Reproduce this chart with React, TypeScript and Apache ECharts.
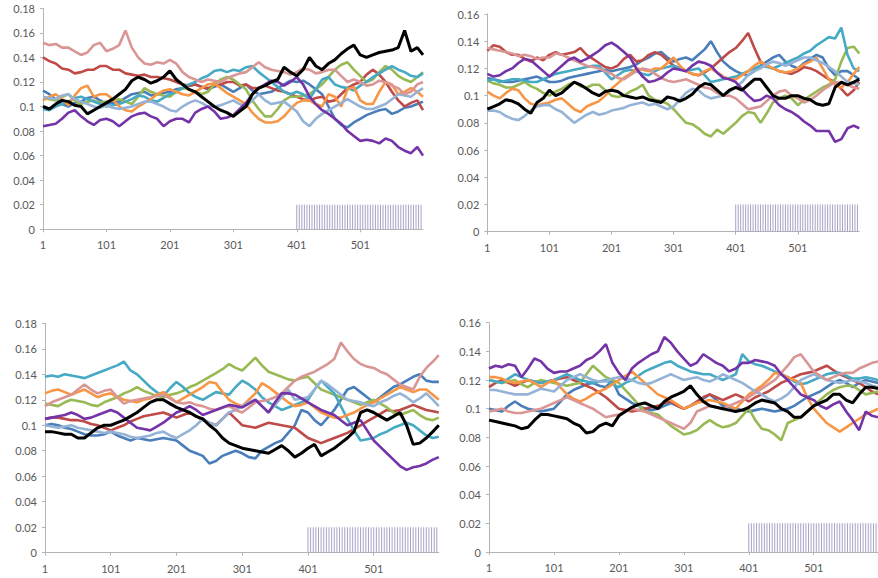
import React, { useEffect, useRef } from "react";
import * as echarts from "echarts";

// x positions of the sampled points (steps of the simulation)
const XS = [1, 11, 21, 31, 41, 51, 61, 71, 81, 91, 101, 111, 121, 131, 141, 151, 161, 171, 181, 191, 201, 211, 221, 231, 241, 251, 261, 271, 281, 291, 301, 311, 321, 331, 341, 351, 361, 371, 381, 391, 401, 411, 421, 431, 441, 451, 461, 471, 481, 491, 501, 511, 521, 531, 541, 551, 561, 571, 581, 591, 600];
// positions of the indicator bars (height 0.02)
const BAR_X = [401, 405, 409, 413, 417, 421, 425, 429, 433, 437, 441, 445, 449, 453, 457, 461, 465, 469, 473, 477, 481, 485, 489, 493, 497, 501, 505, 509, 513, 517, 521, 525, 529, 533, 537, 541, 545, 549, 553, 557, 561, 565, 569, 573, 577, 581, 585, 589, 593, 597];
const BAR_H = 0.02;

// Panel 1 (top-left)
const P1_BLUE = [0.113,0.110,0.106,0.102,0.100,0.103,0.104,0.107,0.108,0.105,0.102,0.103,0.104,0.107,0.110,0.111,0.112,0.109,0.110,0.111,0.112,0.114,0.115,0.117,0.118,0.116,0.114,0.116,0.118,0.115,0.112,0.115,0.118,0.113,0.110,0.111,0.112,0.115,0.118,0.121,0.120,0.121,0.118,0.114,0.110,0.100,0.090,0.085,0.083,0.087,0.090,0.093,0.095,0.097,0.098,0.094,0.096,0.099,0.100,0.102,0.104];
const P1_RED = [0.140,0.137,0.135,0.131,0.130,0.127,0.128,0.130,0.130,0.133,0.133,0.130,0.130,0.127,0.126,0.125,0.126,0.124,0.124,0.123,0.122,0.120,0.118,0.117,0.118,0.116,0.115,0.117,0.118,0.120,0.120,0.117,0.118,0.115,0.115,0.117,0.115,0.113,0.112,0.110,0.108,0.106,0.105,0.107,0.108,0.104,0.105,0.110,0.115,0.118,0.120,0.126,0.130,0.126,0.120,0.112,0.105,0.100,0.103,0.105,0.097];
const P1_GREEN = [0.107,0.106,0.105,0.108,0.110,0.105,0.102,0.104,0.105,0.103,0.104,0.105,0.106,0.104,0.102,0.108,0.115,0.112,0.110,0.109,0.108,0.112,0.115,0.114,0.112,0.110,0.112,0.118,0.122,0.124,0.122,0.118,0.114,0.105,0.098,0.092,0.092,0.098,0.105,0.108,0.108,0.109,0.110,0.114,0.118,0.124,0.130,0.134,0.136,0.130,0.125,0.120,0.122,0.128,0.133,0.130,0.125,0.122,0.120,0.124,0.128];
const P1_TEAL = [0.098,0.097,0.100,0.102,0.104,0.107,0.108,0.106,0.104,0.102,0.100,0.101,0.102,0.104,0.106,0.109,0.108,0.105,0.104,0.107,0.110,0.112,0.115,0.118,0.120,0.123,0.125,0.129,0.130,0.128,0.130,0.129,0.132,0.133,0.128,0.124,0.120,0.116,0.112,0.110,0.112,0.110,0.106,0.114,0.122,0.124,0.118,0.116,0.115,0.113,0.117,0.120,0.124,0.127,0.130,0.133,0.130,0.128,0.125,0.124,0.127];
const P1_ORANGE = [0.105,0.108,0.110,0.106,0.101,0.109,0.115,0.117,0.108,0.110,0.110,0.106,0.100,0.097,0.096,0.100,0.103,0.106,0.110,0.113,0.114,0.112,0.110,0.109,0.112,0.115,0.118,0.119,0.115,0.111,0.108,0.105,0.102,0.095,0.090,0.087,0.087,0.088,0.092,0.098,0.103,0.105,0.105,0.102,0.100,0.110,0.108,0.100,0.114,0.116,0.105,0.102,0.102,0.112,0.120,0.118,0.110,0.112,0.115,0.112,0.108];
const P1_LIGHTBLUE = [0.108,0.107,0.106,0.109,0.110,0.106,0.104,0.102,0.100,0.099,0.101,0.099,0.098,0.099,0.100,0.102,0.104,0.104,0.102,0.100,0.097,0.096,0.100,0.103,0.105,0.103,0.100,0.100,0.101,0.103,0.105,0.102,0.100,0.105,0.110,0.105,0.102,0.103,0.104,0.100,0.096,0.088,0.084,0.090,0.094,0.097,0.100,0.103,0.106,0.103,0.100,0.098,0.098,0.100,0.102,0.106,0.110,0.109,0.108,0.112,0.115];
const P1_PINK = [0.152,0.150,0.151,0.148,0.148,0.145,0.142,0.144,0.150,0.152,0.145,0.147,0.150,0.162,0.148,0.140,0.135,0.134,0.136,0.135,0.138,0.135,0.128,0.124,0.122,0.120,0.122,0.121,0.120,0.123,0.125,0.127,0.128,0.132,0.136,0.132,0.130,0.129,0.128,0.126,0.128,0.131,0.130,0.127,0.128,0.130,0.130,0.125,0.120,0.122,0.120,0.117,0.118,0.121,0.120,0.117,0.115,0.110,0.112,0.118,0.120];
const P1_PURPLE = [0.084,0.085,0.086,0.090,0.095,0.097,0.092,0.088,0.085,0.089,0.090,0.088,0.084,0.088,0.092,0.094,0.095,0.092,0.090,0.084,0.088,0.090,0.090,0.087,0.095,0.098,0.100,0.096,0.090,0.091,0.093,0.098,0.103,0.110,0.115,0.118,0.121,0.120,0.117,0.120,0.124,0.118,0.108,0.102,0.097,0.094,0.090,0.086,0.080,0.076,0.072,0.073,0.072,0.070,0.074,0.072,0.067,0.064,0.062,0.067,0.060];
const P1_BLACK = [0.100,0.098,0.102,0.105,0.104,0.101,0.100,0.094,0.097,0.100,0.103,0.106,0.110,0.114,0.121,0.124,0.122,0.119,0.121,0.124,0.129,0.122,0.118,0.114,0.112,0.108,0.104,0.100,0.097,0.095,0.092,0.096,0.100,0.110,0.115,0.117,0.120,0.122,0.132,0.128,0.125,0.130,0.140,0.133,0.130,0.135,0.138,0.143,0.147,0.150,0.142,0.140,0.142,0.144,0.145,0.146,0.148,0.162,0.145,0.148,0.142];

// Panel 2 (top-right)
const P2_BLUE = [0.113,0.112,0.111,0.110,0.110,0.111,0.112,0.113,0.114,0.112,0.110,0.110,0.111,0.113,0.114,0.115,0.116,0.117,0.118,0.119,0.118,0.119,0.120,0.121,0.123,0.126,0.128,0.131,0.132,0.128,0.125,0.127,0.128,0.126,0.130,0.134,0.140,0.132,0.125,0.121,0.118,0.116,0.115,0.118,0.122,0.125,0.128,0.130,0.125,0.122,0.120,0.124,0.127,0.130,0.128,0.120,0.115,0.118,0.118,0.115,0.112];
const P2_RED = [0.133,0.137,0.136,0.132,0.130,0.130,0.127,0.125,0.128,0.126,0.130,0.132,0.130,0.131,0.132,0.135,0.130,0.127,0.124,0.121,0.120,0.122,0.127,0.130,0.125,0.126,0.130,0.132,0.130,0.126,0.122,0.120,0.118,0.116,0.115,0.117,0.120,0.124,0.128,0.132,0.135,0.140,0.146,0.135,0.125,0.122,0.120,0.118,0.117,0.116,0.118,0.121,0.120,0.118,0.115,0.112,0.110,0.105,0.100,0.104,0.110];
const P2_GREEN = [0.111,0.109,0.108,0.106,0.106,0.108,0.110,0.107,0.105,0.102,0.100,0.103,0.105,0.108,0.110,0.107,0.106,0.108,0.108,0.104,0.100,0.099,0.100,0.103,0.105,0.108,0.100,0.097,0.096,0.094,0.090,0.085,0.080,0.079,0.076,0.072,0.070,0.075,0.072,0.076,0.080,0.085,0.088,0.087,0.080,0.087,0.095,0.098,0.100,0.098,0.093,0.097,0.100,0.103,0.106,0.108,0.112,0.125,0.135,0.136,0.131];
const P2_TEAL = [0.111,0.112,0.110,0.111,0.112,0.112,0.111,0.110,0.110,0.112,0.114,0.116,0.117,0.118,0.119,0.120,0.121,0.122,0.122,0.117,0.112,0.115,0.118,0.119,0.118,0.116,0.115,0.118,0.120,0.121,0.122,0.120,0.118,0.119,0.120,0.115,0.110,0.111,0.112,0.113,0.114,0.116,0.118,0.120,0.122,0.121,0.120,0.122,0.124,0.126,0.128,0.131,0.133,0.137,0.140,0.143,0.142,0.150,0.130,0.120,0.118];
const P2_ORANGE = [0.103,0.100,0.098,0.102,0.105,0.104,0.098,0.094,0.093,0.094,0.095,0.097,0.098,0.094,0.090,0.088,0.092,0.094,0.096,0.100,0.105,0.109,0.113,0.116,0.120,0.119,0.118,0.120,0.120,0.124,0.128,0.122,0.118,0.116,0.115,0.118,0.120,0.117,0.114,0.112,0.112,0.115,0.118,0.122,0.125,0.122,0.120,0.118,0.117,0.118,0.120,0.123,0.125,0.128,0.120,0.112,0.108,0.106,0.110,0.116,0.121];
const P2_LIGHTBLUE = [0.089,0.089,0.088,0.085,0.083,0.082,0.085,0.089,0.092,0.093,0.093,0.090,0.088,0.084,0.080,0.083,0.086,0.088,0.086,0.087,0.089,0.090,0.091,0.093,0.094,0.095,0.093,0.094,0.092,0.090,0.092,0.097,0.102,0.105,0.104,0.100,0.098,0.099,0.100,0.103,0.106,0.110,0.115,0.118,0.120,0.123,0.125,0.124,0.122,0.124,0.126,0.128,0.128,0.126,0.124,0.121,0.118,0.114,0.110,0.109,0.108];
const P2_PINK = [0.135,0.134,0.133,0.132,0.131,0.129,0.130,0.129,0.127,0.128,0.128,0.131,0.130,0.128,0.126,0.124,0.122,0.121,0.120,0.118,0.116,0.113,0.112,0.115,0.118,0.120,0.119,0.116,0.113,0.111,0.110,0.111,0.112,0.110,0.108,0.106,0.105,0.102,0.100,0.100,0.098,0.094,0.090,0.091,0.092,0.096,0.100,0.103,0.104,0.100,0.098,0.095,0.097,0.100,0.104,0.107,0.110,0.109,0.108,0.106,0.105];
const P2_PURPLE = [0.116,0.114,0.115,0.118,0.120,0.124,0.127,0.126,0.122,0.118,0.114,0.118,0.122,0.126,0.128,0.125,0.127,0.130,0.133,0.137,0.139,0.136,0.132,0.128,0.120,0.114,0.110,0.111,0.113,0.117,0.120,0.119,0.118,0.122,0.125,0.124,0.122,0.117,0.113,0.112,0.110,0.105,0.100,0.096,0.097,0.100,0.098,0.093,0.090,0.088,0.085,0.081,0.078,0.074,0.074,0.074,0.066,0.068,0.076,0.078,0.076];
const P2_BLACK = [0.090,0.092,0.094,0.097,0.096,0.094,0.090,0.087,0.095,0.098,0.104,0.100,0.102,0.106,0.110,0.108,0.105,0.102,0.100,0.103,0.104,0.103,0.100,0.099,0.098,0.099,0.097,0.096,0.095,0.099,0.098,0.096,0.098,0.101,0.106,0.109,0.108,0.104,0.100,0.104,0.106,0.104,0.108,0.112,0.112,0.106,0.100,0.098,0.098,0.100,0.100,0.098,0.097,0.094,0.093,0.094,0.106,0.110,0.108,0.110,0.112];

// Panel 3 (bottom-left)
const P3_BLUE = [0.100,0.101,0.100,0.098,0.097,0.095,0.093,0.092,0.092,0.093,0.095,0.092,0.090,0.088,0.090,0.089,0.088,0.089,0.090,0.089,0.088,0.084,0.080,0.078,0.076,0.070,0.072,0.076,0.078,0.080,0.078,0.075,0.074,0.080,0.083,0.086,0.088,0.094,0.100,0.112,0.110,0.104,0.100,0.106,0.112,0.120,0.128,0.130,0.126,0.122,0.118,0.122,0.126,0.130,0.132,0.135,0.138,0.140,0.135,0.134,0.134];
const P3_RED = [0.105,0.106,0.106,0.105,0.104,0.104,0.103,0.101,0.100,0.098,0.096,0.098,0.100,0.103,0.105,0.107,0.108,0.109,0.110,0.108,0.106,0.108,0.110,0.107,0.104,0.102,0.100,0.105,0.110,0.105,0.100,0.099,0.098,0.100,0.102,0.101,0.100,0.099,0.098,0.094,0.090,0.088,0.086,0.088,0.090,0.092,0.094,0.097,0.100,0.103,0.106,0.109,0.112,0.111,0.112,0.114,0.116,0.114,0.112,0.111,0.110];
const P3_GREEN = [0.117,0.116,0.115,0.118,0.120,0.119,0.118,0.116,0.115,0.118,0.120,0.122,0.125,0.127,0.130,0.127,0.125,0.123,0.122,0.124,0.125,0.127,0.130,0.132,0.135,0.138,0.141,0.144,0.148,0.145,0.143,0.148,0.153,0.147,0.142,0.140,0.138,0.136,0.135,0.137,0.138,0.133,0.128,0.126,0.124,0.122,0.120,0.118,0.116,0.118,0.120,0.117,0.114,0.110,0.108,0.110,0.112,0.108,0.105,0.104,0.106];
const P3_TEAL = [0.138,0.139,0.138,0.140,0.139,0.138,0.137,0.139,0.141,0.143,0.145,0.147,0.150,0.143,0.140,0.135,0.130,0.126,0.123,0.129,0.134,0.130,0.125,0.122,0.120,0.123,0.126,0.125,0.124,0.130,0.135,0.132,0.128,0.122,0.118,0.115,0.112,0.114,0.116,0.118,0.120,0.128,0.135,0.130,0.125,0.115,0.105,0.096,0.088,0.089,0.090,0.093,0.095,0.098,0.100,0.102,0.100,0.096,0.092,0.090,0.091];
const P3_ORANGE = [0.125,0.127,0.128,0.126,0.124,0.126,0.128,0.125,0.122,0.124,0.125,0.122,0.120,0.119,0.118,0.120,0.121,0.124,0.126,0.122,0.118,0.121,0.124,0.127,0.130,0.134,0.133,0.126,0.120,0.117,0.115,0.120,0.125,0.133,0.130,0.126,0.122,0.118,0.115,0.116,0.118,0.114,0.110,0.108,0.106,0.106,0.108,0.110,0.113,0.116,0.118,0.121,0.124,0.127,0.130,0.128,0.126,0.128,0.128,0.124,0.120];
const P3_LIGHTBLUE = [0.100,0.099,0.098,0.099,0.100,0.098,0.097,0.096,0.095,0.094,0.095,0.094,0.093,0.091,0.090,0.091,0.092,0.094,0.095,0.092,0.090,0.093,0.096,0.100,0.105,0.102,0.100,0.105,0.110,0.112,0.115,0.118,0.120,0.115,0.110,0.116,0.122,0.128,0.120,0.121,0.122,0.128,0.135,0.132,0.128,0.124,0.120,0.119,0.118,0.116,0.115,0.118,0.120,0.123,0.125,0.122,0.118,0.121,0.125,0.120,0.115];
const P3_PINK = [0.115,0.118,0.120,0.122,0.124,0.128,0.132,0.128,0.125,0.127,0.128,0.122,0.117,0.119,0.120,0.121,0.122,0.123,0.124,0.121,0.118,0.117,0.118,0.116,0.115,0.113,0.112,0.114,0.115,0.112,0.110,0.114,0.118,0.119,0.120,0.122,0.125,0.130,0.135,0.138,0.140,0.142,0.145,0.148,0.152,0.165,0.158,0.152,0.148,0.146,0.145,0.142,0.140,0.136,0.132,0.130,0.128,0.138,0.145,0.150,0.155];
const P3_PURPLE = [0.105,0.106,0.107,0.108,0.110,0.108,0.105,0.106,0.108,0.110,0.112,0.110,0.106,0.102,0.098,0.097,0.096,0.099,0.102,0.106,0.110,0.112,0.115,0.112,0.108,0.110,0.112,0.114,0.116,0.115,0.114,0.117,0.120,0.115,0.110,0.118,0.125,0.125,0.124,0.121,0.118,0.115,0.112,0.110,0.108,0.104,0.100,0.102,0.104,0.096,0.088,0.083,0.078,0.073,0.068,0.065,0.067,0.068,0.070,0.073,0.075];
const P3_BLACK = [0.095,0.095,0.094,0.093,0.093,0.090,0.090,0.094,0.098,0.100,0.100,0.102,0.104,0.107,0.110,0.114,0.118,0.120,0.120,0.117,0.114,0.112,0.110,0.107,0.105,0.100,0.096,0.090,0.086,0.084,0.082,0.081,0.080,0.079,0.078,0.081,0.084,0.080,0.075,0.078,0.082,0.085,0.076,0.079,0.082,0.086,0.090,0.095,0.110,0.112,0.110,0.107,0.104,0.107,0.110,0.100,0.085,0.086,0.090,0.095,0.100];

// Panel 4 (bottom-right)
const P4_BLUE = [0.100,0.099,0.098,0.102,0.105,0.102,0.100,0.099,0.098,0.099,0.100,0.105,0.110,0.113,0.115,0.117,0.118,0.116,0.115,0.120,0.110,0.107,0.104,0.102,0.100,0.099,0.100,0.102,0.104,0.102,0.100,0.102,0.104,0.107,0.110,0.106,0.102,0.101,0.100,0.099,0.098,0.099,0.100,0.099,0.098,0.099,0.100,0.102,0.105,0.108,0.110,0.112,0.115,0.118,0.120,0.118,0.115,0.118,0.120,0.119,0.118];
const P4_RED = [0.115,0.118,0.120,0.118,0.116,0.118,0.120,0.119,0.118,0.119,0.120,0.121,0.122,0.120,0.118,0.116,0.114,0.111,0.108,0.104,0.100,0.099,0.098,0.099,0.100,0.101,0.102,0.104,0.105,0.102,0.100,0.102,0.105,0.108,0.110,0.108,0.106,0.108,0.110,0.108,0.105,0.108,0.110,0.112,0.115,0.118,0.120,0.122,0.124,0.125,0.126,0.128,0.130,0.127,0.124,0.122,0.120,0.118,0.115,0.112,0.110];
const P4_GREEN = [0.120,0.119,0.118,0.119,0.120,0.117,0.115,0.118,0.120,0.119,0.118,0.117,0.116,0.117,0.118,0.124,0.130,0.126,0.122,0.120,0.118,0.113,0.108,0.103,0.098,0.097,0.096,0.092,0.088,0.085,0.082,0.083,0.085,0.089,0.092,0.089,0.087,0.088,0.090,0.095,0.100,0.092,0.086,0.085,0.082,0.078,0.090,0.092,0.094,0.098,0.102,0.106,0.110,0.113,0.115,0.116,0.116,0.113,0.110,0.111,0.112];
const P4_TEAL = [0.120,0.119,0.118,0.121,0.124,0.122,0.120,0.119,0.118,0.119,0.120,0.122,0.124,0.122,0.120,0.119,0.118,0.119,0.120,0.117,0.115,0.118,0.120,0.123,0.126,0.128,0.130,0.132,0.133,0.130,0.128,0.126,0.125,0.124,0.124,0.122,0.120,0.122,0.124,0.138,0.133,0.131,0.130,0.128,0.126,0.124,0.122,0.119,0.117,0.118,0.120,0.122,0.124,0.125,0.125,0.123,0.121,0.121,0.122,0.121,0.120];
const P4_ORANGE = [0.122,0.122,0.121,0.119,0.118,0.119,0.120,0.118,0.115,0.118,0.120,0.115,0.110,0.107,0.105,0.107,0.110,0.112,0.114,0.117,0.120,0.123,0.126,0.122,0.118,0.114,0.110,0.108,0.106,0.103,0.100,0.102,0.104,0.105,0.106,0.105,0.104,0.102,0.100,0.105,0.110,0.113,0.116,0.120,0.125,0.124,0.122,0.120,0.118,0.108,0.100,0.095,0.090,0.087,0.084,0.087,0.090,0.093,0.096,0.098,0.100];
const P4_LIGHTBLUE = [0.113,0.113,0.112,0.111,0.110,0.110,0.110,0.112,0.114,0.113,0.112,0.116,0.120,0.122,0.124,0.122,0.120,0.119,0.119,0.121,0.122,0.121,0.120,0.118,0.117,0.118,0.120,0.122,0.124,0.122,0.120,0.121,0.122,0.120,0.119,0.121,0.124,0.122,0.120,0.118,0.115,0.112,0.110,0.107,0.105,0.107,0.110,0.115,0.120,0.122,0.124,0.122,0.120,0.119,0.118,0.119,0.120,0.119,0.118,0.116,0.115];
const P4_PINK = [0.098,0.099,0.100,0.098,0.097,0.097,0.098,0.099,0.100,0.102,0.104,0.106,0.108,0.106,0.104,0.102,0.100,0.097,0.094,0.095,0.096,0.098,0.100,0.099,0.098,0.096,0.094,0.092,0.090,0.088,0.086,0.090,0.098,0.100,0.102,0.101,0.100,0.102,0.104,0.106,0.108,0.111,0.114,0.117,0.120,0.125,0.130,0.136,0.138,0.132,0.126,0.123,0.120,0.122,0.124,0.125,0.125,0.128,0.130,0.132,0.133];
const P4_PURPLE = [0.128,0.130,0.129,0.131,0.130,0.122,0.128,0.135,0.133,0.128,0.125,0.126,0.126,0.128,0.130,0.134,0.136,0.140,0.145,0.132,0.125,0.120,0.128,0.132,0.135,0.138,0.140,0.150,0.146,0.140,0.135,0.130,0.132,0.138,0.135,0.132,0.130,0.126,0.128,0.132,0.132,0.134,0.133,0.132,0.130,0.124,0.120,0.115,0.110,0.108,0.106,0.102,0.100,0.103,0.105,0.098,0.092,0.085,0.098,0.095,0.094];
const P4_BLACK = [0.092,0.091,0.090,0.089,0.088,0.086,0.087,0.092,0.096,0.096,0.095,0.094,0.093,0.090,0.088,0.083,0.084,0.088,0.090,0.088,0.095,0.098,0.101,0.103,0.104,0.102,0.100,0.105,0.108,0.110,0.112,0.116,0.110,0.105,0.102,0.101,0.100,0.099,0.098,0.099,0.101,0.104,0.106,0.105,0.104,0.100,0.098,0.094,0.094,0.098,0.102,0.104,0.106,0.110,0.110,0.106,0.104,0.110,0.115,0.115,0.114];

const Y_MAX = [0.18, 0.16, 0.18, 0.16];

const COLORS = {
  blue: "#4A7EBB",
  red: "#BE4B48",
  green: "#98B954",
  teal: "#46AAC5",
  orange: "#F79646",
  lightBlue: "#95B3D7",
  pink: "#D99694",
  purple: "#7433A6",
  black: "#000000",
};

const PANELS = [
  [P1_BLUE, P1_RED, P1_GREEN, P1_TEAL, P1_ORANGE, P1_LIGHTBLUE, P1_PINK, P1_PURPLE, P1_BLACK],
  [P2_BLUE, P2_RED, P2_GREEN, P2_TEAL, P2_ORANGE, P2_LIGHTBLUE, P2_PINK, P2_PURPLE, P2_BLACK],
  [P3_BLUE, P3_RED, P3_GREEN, P3_TEAL, P3_ORANGE, P3_LIGHTBLUE, P3_PINK, P3_PURPLE, P3_BLACK],
  [P4_BLUE, P4_RED, P4_GREEN, P4_TEAL, P4_ORANGE, P4_LIGHTBLUE, P4_PINK, P4_PURPLE, P4_BLACK],
];
const SERIES_COLORS = [COLORS.blue, COLORS.red, COLORS.green, COLORS.teal, COLORS.orange, COLORS.lightBlue, COLORS.pink, COLORS.purple, COLORS.black];

const GRIDS = [
  { left: 43, top: 8.3, width: 380, height: 221 },
  { left: 487.3, top: 14, width: 372, height: 217.7 },
  { left: 45, top: 323.3, width: 393.8, height: 229.4 },
  { left: 489, top: 322.7, width: 394.3, height: 229.3 },
];

export default function App() {
  const ref = useRef<HTMLDivElement>(null);
  useEffect(() => {
    if (!ref.current) return;
    const chart = echarts.init(ref.current, undefined, { renderer: "svg" });
    const axisColor = "#b4b4b4";
    const labelStyle = { color: "#595959", fontFamily: "Lato, 'Open Sans', sans-serif", fontSize: 11 };
    const xAxis: any[] = [];
    const yAxis: any[] = [];
    const series: any[] = [];
    GRIDS.forEach((g, p) => {
      xAxis.push({
        type: "value",
        gridIndex: p,
        min: 1,
        max: 600,
        interval: 100,
        splitLine: { show: false },
        axisLine: { show: true, lineStyle: { color: axisColor, width: 1 } },
        axisTick: { show: true, length: 3, lineStyle: { color: axisColor } },
        axisLabel: { ...labelStyle, margin: 10, showMaxLabel: false },
      });
      yAxis.push({
        type: "value",
        gridIndex: p,
        min: 0,
        max: Y_MAX[p],
        interval: 0.02,
        splitLine: { show: false },
        axisLine: { show: true, lineStyle: { color: axisColor, width: 1 } },
        axisTick: { show: true, length: 3, lineStyle: { color: axisColor } },
        axisLabel: { ...labelStyle, margin: 8 },
      });
      series.push({
        type: "bar",
        xAxisIndex: p,
        yAxisIndex: p,
        barWidth: 1,
        itemStyle: { color: "#a9a2c6" },
        data: BAR_X.map((x) => [x, BAR_H]),
        z: 1,
      });
      PANELS[p].forEach((vals, s) => {
        series.push({
          type: "line",
          xAxisIndex: p,
          yAxisIndex: p,
          showSymbol: false,
          symbol: "none",
          smooth: false,
          lineStyle: { color: SERIES_COLORS[s], width: s === 8 ? 3 : 2.6 },
          data: XS.map((x, i) => [x, vals[i]]),
          z: 2 + s,
        });
      });
    });
    chart.setOption({
      animation: false,
      backgroundColor: "#ffffff",
      grid: GRIDS,
      xAxis,
      yAxis,
      series,
    });
    return () => chart.dispose();
  }, []);
  return (
    <div
      ref={ref}
      style={{ position: "absolute", left: 0, top: 0, width: 878, height: 578, background: "#fff" }}
    />
  );
}
